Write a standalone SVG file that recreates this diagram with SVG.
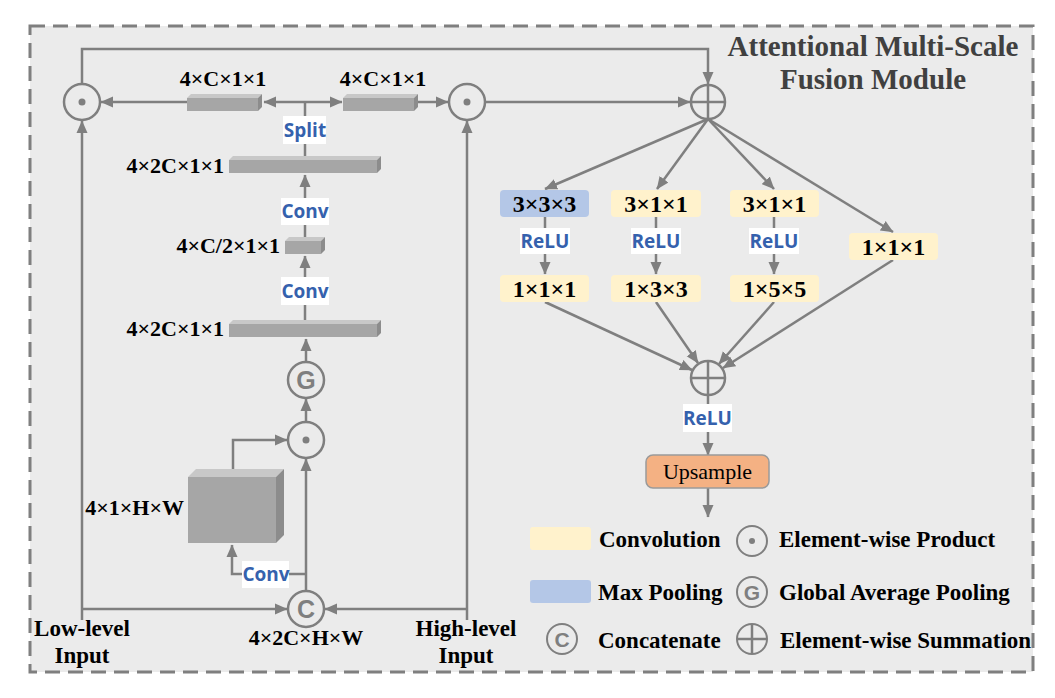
<svg xmlns="http://www.w3.org/2000/svg" width="1055" height="698" viewBox="0 0 1055 698">
<style>
.ln{stroke:#7f7f7f;stroke-width:2.5;fill:none}
.ar{stroke:#7f7f7f;stroke-width:2.5;fill:none;marker-end:url(#ah)}
.cir{stroke:#7f7f7f;stroke-width:2.5;fill:#ebebeb}
.lcir{stroke:#7f7f7f;stroke-width:2;fill:#ebebeb}
.dot{fill:#7f7f7f}
.fr{fill:#a6a6a6}
.tp{fill:#c8c8c8}
.sd{fill:#8c8c8c}
.t{font-family:"Liberation Serif","Times New Roman",serif;font-weight:bold;font-size:22px;fill:#000}
.bx{font-family:"Liberation Serif","Times New Roman",serif;font-weight:bold;font-size:24px;fill:#000}
.lg{font-family:"Liberation Serif","Times New Roman",serif;font-weight:bold;font-size:23px;fill:#000}
.tr{font-family:"Liberation Serif","Times New Roman",serif;font-size:22px;fill:#000}
.ttl{font-family:"Liberation Serif","Times New Roman",serif;font-weight:bold;font-size:29px;fill:#404040}
.b{font-family:"Open Sans","Liberation Sans",sans-serif;font-weight:bold;font-size:19px;fill:#3561ad}
.wb{fill:#ffffff}
.sym{font-family:"Liberation Sans",Arial,sans-serif;font-weight:bold;fill:#7f7f7f}
.yel{fill:#fff2cc}
.blu{fill:#b4c7e7}
</style>
<defs>
<marker id="ah" markerUnits="userSpaceOnUse" markerWidth="13" markerHeight="12" viewBox="0 0 13 12" refX="12" refY="6" orient="auto">
<path d="M0,0.5 L12.5,6 L0,11.5 z" fill="#7f7f7f"/>
</marker>
</defs>
<rect width="1055" height="698" fill="#ffffff"/>
<rect id="frame" x="30" y="26" width="1003" height="646" fill="#ebebeb" stroke="#7f7f7f" stroke-width="3" stroke-dasharray="15 8"/>
<g id="title">
<text class="ttl" x="873" y="56" text-anchor="middle">Attentional Multi-Scale</text>
<text class="ttl" x="873" y="89" text-anchor="middle">Fusion Module</text>
</g>
<g id="connectors">
<path class="ar" d="M82,84 L82,49 L708,49 L708,84"/>
<line class="ar" x1="485" y1="102" x2="690" y2="102"/>
<line class="ar" x1="305" y1="102" x2="264" y2="102"/>
<line class="ar" x1="305" y1="102" x2="342" y2="102"/>
<line class="ar" x1="187" y1="102" x2="101" y2="102"/>
<line class="ar" x1="418" y1="102" x2="448" y2="102"/>
<line class="ln" x1="305" y1="102" x2="305" y2="156"/>
<line class="ar" x1="305" y1="237" x2="305" y2="175"/>
<line class="ar" x1="305" y1="320" x2="305" y2="256"/>
<line class="ar" x1="306" y1="362" x2="306" y2="339"/>
<line class="ar" x1="306" y1="422" x2="306" y2="399"/>
<path class="ar" d="M233,469 L233,440 L287,440"/>
<line class="ar" x1="306" y1="591" x2="306" y2="459"/>
<path class="ar" d="M306,574 L232,574 L232,545"/>
<line class="ar" x1="82" y1="620" x2="82" y2="121"/>
<line class="ar" x1="82" y1="609" x2="287" y2="609"/>
<line class="ar" x1="467" y1="620" x2="467" y2="121"/>
<line class="ar" x1="467" y1="609" x2="325" y2="609"/>
<line class="ar" x1="708" y1="119" x2="545" y2="189"/>
<line class="ar" x1="708" y1="119" x2="657" y2="189"/>
<line class="ar" x1="708" y1="119" x2="774" y2="189"/>
<line class="ar" x1="708" y1="119" x2="893" y2="232"/>
<line class="ln" x1="545" y1="217" x2="545" y2="230"/>
<line class="ln" x1="656" y1="217" x2="656" y2="230"/>
<line class="ln" x1="774" y1="217" x2="774" y2="230"/>
<line class="ar" x1="545" y1="253" x2="545" y2="274"/>
<line class="ar" x1="656" y1="253" x2="656" y2="274"/>
<line class="ar" x1="774" y1="253" x2="774" y2="274"/>
<line class="ar" x1="545" y1="302" x2="692" y2="370"/>
<line class="ar" x1="656" y1="302" x2="698" y2="363"/>
<line class="ar" x1="774" y1="302" x2="719" y2="364"/>
<line class="ar" x1="893" y1="260" x2="723" y2="368"/>
<line class="ln" x1="708" y1="395" x2="708" y2="405"/>
<line class="ar" x1="708" y1="431" x2="708" y2="455"/>
<line class="ar" x1="708" y1="488" x2="708" y2="517"/>
</g>
<g id="labels-blue">
<rect class="wb" x="283" y="116" width="43" height="28"/>
<text class="b" x="305" y="137" text-anchor="middle">Split</text>
<rect class="wb" x="281" y="198" width="48" height="27"/>
<text class="b" x="305" y="218" text-anchor="middle">Conv</text>
<rect class="wb" x="281" y="277" width="48" height="28"/>
<text class="b" x="305" y="298" text-anchor="middle">Conv</text>
<rect class="wb" x="242" y="561" width="47" height="27"/>
<text class="b" x="266" y="581" text-anchor="middle">Conv</text>
<rect class="wb" x="520" y="228" width="50" height="26"/>
<text class="b" x="545" y="248" text-anchor="middle">ReLU</text>
<rect class="wb" x="631" y="228" width="50" height="26"/>
<text class="b" x="656" y="248" text-anchor="middle">ReLU</text>
<rect class="wb" x="749" y="228" width="50" height="26"/>
<text class="b" x="774" y="248" text-anchor="middle">ReLU</text>
<rect class="wb" x="683" y="404" width="49" height="28"/>
<text class="b" x="707.5" y="425" text-anchor="middle">ReLU</text>
</g>
<g id="prod-left"><circle class="cir" cx="82" cy="102" r="18"/><circle class="dot" cx="82" cy="102" r="3.5"/></g>
<g id="prod-right"><circle class="cir" cx="467" cy="102" r="18"/><circle class="dot" cx="467" cy="102" r="3.5"/></g>
<g id="sum-top"><circle class="cir" cx="708" cy="102" r="17"/><path class="ln" d="M691,102 H725 M708,85 V119"/></g>
<g id="bar-c1">
<rect class="fr" x="187" y="98" width="71" height="13"/>
<polygon class="tp" points="187,98 191,94 262,94 258,98"/>
<polygon class="sd" points="258,98 262,94 262,107 258,111"/>
<text class="t" x="223" y="86" text-anchor="middle">4×C×1×1</text>
</g>
<g id="bar-c2">
<rect class="fr" x="343" y="98" width="71" height="13"/>
<polygon class="tp" points="343,98 347,94 418,94 414,98"/>
<polygon class="sd" points="414,98 418,94 418,107 414,111"/>
<text class="t" x="383" y="86" text-anchor="middle">4×C×1×1</text>
</g>
<g id="bar-2c-top">
<rect class="fr" x="229" y="160" width="148" height="13"/>
<polygon class="tp" points="229,160 233,156 381,156 377,160"/>
<polygon class="sd" points="377,160 381,156 381,169 377,173"/>
<text class="t" x="224" y="173" text-anchor="end">4×2C×1×1</text>
</g>
<g id="bar-c-half">
<rect class="fr" x="285" y="241" width="36" height="13"/>
<polygon class="tp" points="285,241 289,237 325,237 321,241"/>
<polygon class="sd" points="321,241 325,237 325,250 321,254"/>
<text class="t" x="280" y="253" text-anchor="end">4×C/2×1×1</text>
</g>
<g id="bar-2c-bottom">
<rect class="fr" x="229" y="324" width="148" height="13"/>
<polygon class="tp" points="229,324 233,320 381,320 377,324"/>
<polygon class="sd" points="377,324 381,320 381,333 377,337"/>
<text class="t" x="224" y="336" text-anchor="end">4×2C×1×1</text>
</g>
<g id="gap"><circle class="cir" cx="306" cy="380" r="18"/><text class="sym" x="306" y="389" font-size="25" text-anchor="middle">G</text></g>
<g id="prod-mid"><circle class="cir" cx="306" cy="440" r="18"/><circle class="dot" cx="306" cy="440" r="3.5"/></g>
<g id="cube">
<rect class="fr" x="188" y="477" width="88" height="66"/>
<polygon class="tp" points="188,477 196,469 284,469 276,477"/>
<polygon class="sd" points="276,477 284,469 284,535 276,543"/>
<text class="t" x="184" y="515" text-anchor="end">4×1×H×W</text>
</g>
<g id="concat"><circle class="cir" cx="306" cy="609" r="18"/><text class="sym" x="306" y="618" font-size="25" text-anchor="middle">C</text>
<text class="t" x="306" y="645" text-anchor="middle">4×2C×H×W</text></g>
<g id="low-input"><text class="lg" x="82" y="636" text-anchor="middle">Low-level</text><text class="lg" x="82" y="663" text-anchor="middle">Input</text></g>
<g id="high-input"><text class="lg" x="466" y="636" text-anchor="middle">High-level</text><text class="lg" x="466" y="663" text-anchor="middle">Input</text></g>
<g id="b1-pool"><rect class="blu" x="500" y="190" width="89" height="27" rx="4"/><text class="bx" x="544.5" y="212" text-anchor="middle">3×3×3</text></g>
<g id="b2-conv"><rect class="yel" x="611" y="190" width="90" height="27" rx="4"/><text class="bx" x="656" y="212" text-anchor="middle">3×1×1</text></g>
<g id="b3-conv"><rect class="yel" x="730" y="190" width="89" height="27" rx="4"/><text class="bx" x="774.5" y="212" text-anchor="middle">3×1×1</text></g>
<g id="b4-conv"><rect class="yel" x="849" y="233" width="89" height="27" rx="4"/><text class="bx" x="893.5" y="255" text-anchor="middle">1×1×1</text></g>
<g id="b1-conv2"><rect class="yel" x="500" y="275" width="89" height="27" rx="4"/><text class="bx" x="544.5" y="297" text-anchor="middle">1×1×1</text></g>
<g id="b2-conv2"><rect class="yel" x="611" y="275" width="90" height="27" rx="4"/><text class="bx" x="656" y="297" text-anchor="middle">1×3×3</text></g>
<g id="b3-conv2"><rect class="yel" x="730" y="275" width="89" height="27" rx="4"/><text class="bx" x="774.5" y="297" text-anchor="middle">1×5×5</text></g>
<g id="sum-bottom"><circle class="cir" cx="708" cy="378" r="17"/><path class="ln" d="M691,378 H725 M708,361 V395"/></g>
<g id="upsample"><rect x="646" y="455" width="123" height="33" rx="7" fill="#f4b183" stroke="#9a9a9a" stroke-width="1.5"/><text class="tr" x="707.5" y="479" text-anchor="middle">Upsample</text></g>
<g id="legend">
<rect class="yel" x="530" y="527" width="61" height="23" rx="3"/>
<text class="lg" x="599" y="547">Convolution</text>
<circle class="lcir" cx="752" cy="541" r="15"/><circle class="dot" cx="752" cy="541" r="3"/>
<text class="lg" x="779" y="547">Element-wise Product</text>
<rect class="blu" x="530" y="580" width="61" height="23" rx="3"/>
<text class="lg" x="598" y="600">Max Pooling</text>
<circle class="lcir" cx="752" cy="592" r="15"/><text class="sym" x="752" y="600" font-size="21" text-anchor="middle">G</text>
<text class="lg" x="779" y="600">Global Average Pooling</text>
<circle class="lcir" cx="562" cy="639" r="15"/><text class="sym" x="562" y="647" font-size="21" text-anchor="middle">C</text>
<text class="lg" x="598" y="648">Concatenate</text>
<circle class="lcir" cx="752" cy="639" r="15"/><path class="ln" d="M737,639 H767 M752,624 V654" stroke-width="1.5"/>
<text class="lg" x="780" y="648">Element-wise Summation</text>
</g>
</svg>
